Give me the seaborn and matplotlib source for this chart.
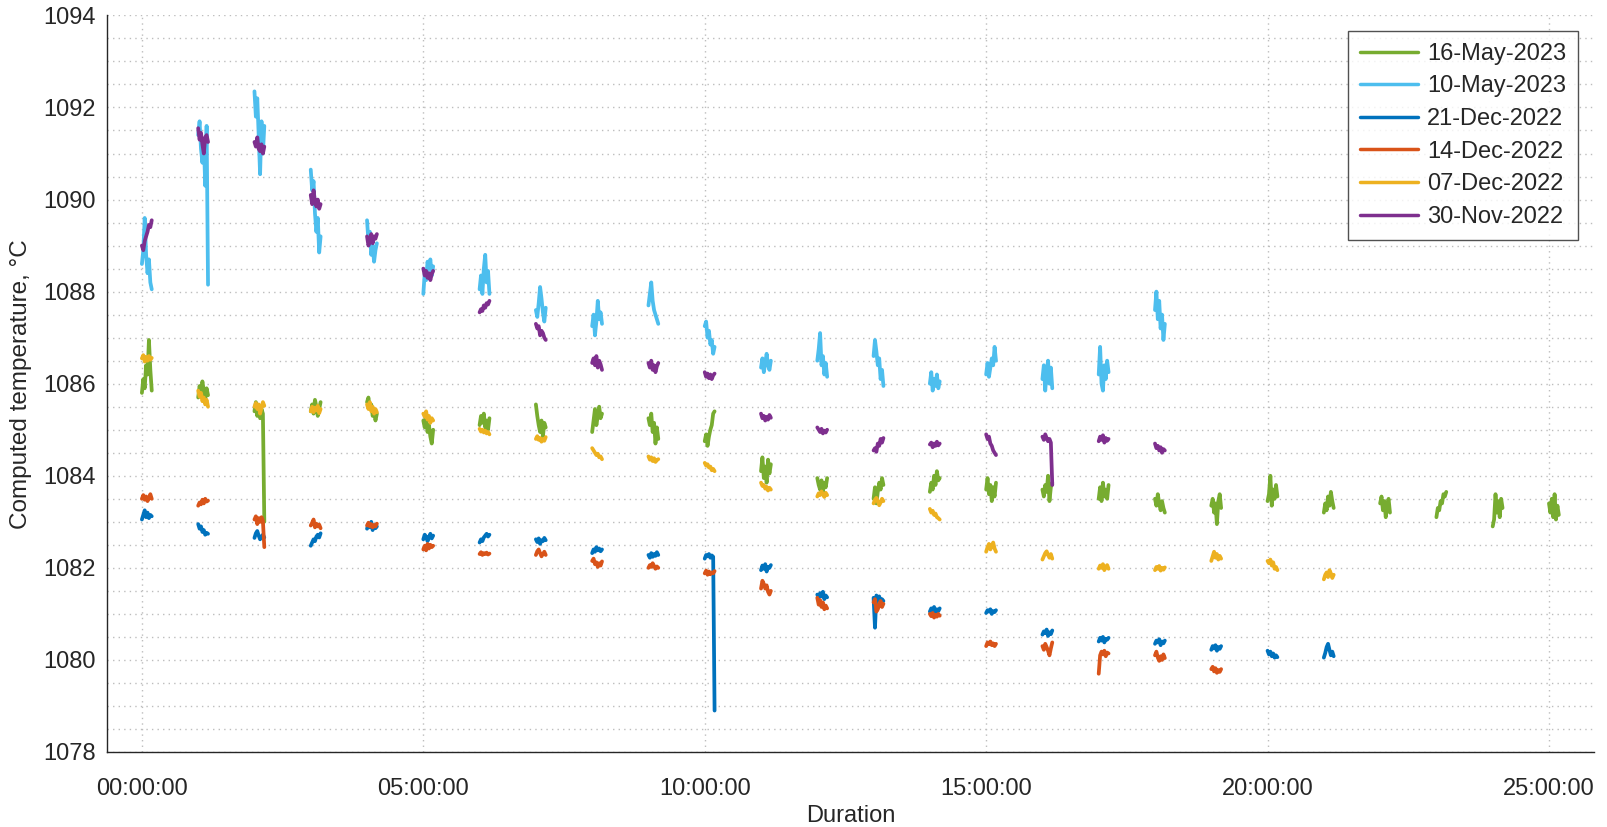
import numpy as np
import pandas as pd
import matplotlib
matplotlib.use("Agg")
import matplotlib.pyplot as plt
from matplotlib.ticker import MultipleLocator, FixedLocator
import seaborn as sns

# ---------------- data ----------------
series_labels = ["16-May-2023", "10-May-2023", "21-Dec-2022",
                 "14-Dec-2022", "07-Dec-2022", "30-Nov-2022"]
series_colors = ["#77AC30", "#4DBEEE", "#0072BD", "#D95319", "#EDB120", "#7E2F8E"]

# time offsets (hours) of the samples inside each hourly measurement burst
burst_offsets = [0.0, 0.025, 0.05, 0.075, 0.1, 0.125, 0.15, 0.175]

may16 = [
    [1085.80, 1086.10, 1085.90, 1086.40, 1086.20, 1086.95, 1086.30, 1085.85],
    [1085.70, 1085.95, 1085.80, 1086.05, 1085.85, 1085.65, 1085.90, 1085.75],
    [1085.40, 1085.60, 1085.30, 1085.50, 1085.25, 1085.45, 1085.35, 1083.00],
    [1085.40, 1085.55, 1085.35, 1085.65, 1085.50, 1085.30, 1085.45, 1085.60],
    [1085.60, 1085.70, 1085.45, 1085.55, 1085.30, 1085.40, 1085.20, 1085.35],
    [1085.20, 1085.05, 1085.25, 1084.95, 1085.10, 1084.85, 1084.70, 1085.00],
    [1085.10, 1085.30, 1085.15, 1085.35, 1085.05, 1085.20, 1085.00, 1085.25],
    [1085.55, 1085.30, 1085.10, 1084.95, 1085.20, 1084.85, 1085.15, 1085.05],
    [1084.95, 1085.20, 1085.45, 1085.10, 1085.30, 1085.50, 1085.25, 1085.35],
    [1085.25, 1085.10, 1085.35, 1084.95, 1085.15, 1084.70, 1085.05, 1084.80],
    [1084.75, 1084.90, 1084.65, 1084.85, 1085.00, 1085.10, 1085.35, 1085.40],
    [1084.10, 1084.40, 1083.95, 1084.20, 1083.85, 1084.35, 1084.05, 1084.25],
    [1083.95, 1083.80, 1083.70, 1083.90, 1083.65, 1083.85, 1083.75, 1083.95],
    [1083.50, 1083.75, 1083.40, 1083.65, 1083.85, 1083.70, 1083.95, 1083.80],
    [1083.65, 1083.85, 1083.70, 1084.00, 1083.80, 1084.10, 1083.90, 1083.95],
    [1083.70, 1083.95, 1083.60, 1083.80, 1083.45, 1083.75, 1083.55, 1083.85],
    [1083.70, 1083.55, 1083.80, 1083.65, 1084.00, 1083.45, 1083.75, 1083.85],
    [1083.50, 1083.75, 1083.45, 1083.85, 1083.55, 1083.70, 1083.50, 1083.80],
    [1083.50, 1083.35, 1083.60, 1083.40, 1083.25, 1083.45, 1083.30, 1083.20],
    [1083.35, 1083.50, 1083.20, 1083.40, 1082.95, 1083.45, 1083.60, 1083.30],
    [1083.45, 1083.60, 1084.00, 1083.35, 1083.70, 1083.50, 1083.80, 1083.55],
    [1083.20, 1083.40, 1083.25, 1083.55, 1083.35, 1083.65, 1083.45, 1083.30],
    [1083.40, 1083.55, 1083.25, 1083.45, 1083.10, 1083.35, 1083.50, 1083.20],
    [1083.10, 1083.30, 1083.25, 1083.45, 1083.40, 1083.60, 1083.55, 1083.65],
    [1082.90, 1083.05, 1083.60, 1083.20, 1083.45, 1083.10, 1083.50, 1083.30],
    [1083.40, 1083.20, 1083.50, 1083.10, 1083.60, 1083.05, 1083.35, 1083.15],
]

may10 = [
    [1088.60, 1088.90, 1089.60, 1088.80, 1088.40, 1088.70, 1088.20, 1088.05],
    [1091.40, 1091.70, 1091.10, 1090.80, 1091.30, 1090.30, 1091.60, 1088.15],
    [1092.35, 1091.80, 1092.20, 1091.40, 1090.55, 1091.70, 1091.00, 1091.60],
    [1090.65, 1090.20, 1090.40, 1089.70, 1089.30, 1089.60, 1088.85, 1089.20],
    [1089.55, 1089.10, 1089.30, 1088.80, 1089.00, 1088.65, 1088.90, 1089.05],
    [1087.95, 1088.40, 1088.25, 1088.65, 1088.50, 1088.70, 1088.35, 1088.55],
    [1088.05, 1088.35, 1087.95, 1088.50, 1088.80, 1088.20, 1088.45, 1087.95],
    [1087.60, 1087.45, 1087.75, 1088.10, 1087.85, 1087.55, 1087.35, 1087.65],
    [1087.25, 1087.50, 1087.05, 1087.35, 1087.80, 1087.40, 1087.55, 1087.30],
    [1087.70, 1087.95, 1088.20, 1087.80, 1087.60, 1087.50, 1087.40, 1087.30],
    [1087.25, 1087.35, 1087.00, 1087.15, 1086.85, 1086.95, 1086.65, 1086.80],
    [1086.35, 1086.55, 1086.25, 1086.45, 1086.65, 1086.40, 1086.30, 1086.50],
    [1086.50, 1086.75, 1087.10, 1086.40, 1086.60, 1086.20, 1086.45, 1086.15],
    [1086.60, 1086.95, 1086.70, 1086.40, 1086.55, 1086.10, 1086.30, 1085.95],
    [1086.00, 1086.25, 1085.85, 1086.10, 1085.95, 1086.20, 1085.90, 1086.05],
    [1086.20, 1086.45, 1086.15, 1086.35, 1086.55, 1086.40, 1086.80, 1086.50],
    [1086.10, 1086.40, 1085.85, 1086.25, 1086.50, 1086.00, 1086.35, 1085.90],
    [1086.20, 1086.80, 1086.00, 1085.85, 1086.40, 1086.10, 1086.50, 1086.25],
    [1087.60, 1088.00, 1087.40, 1087.80, 1087.20, 1087.50, 1086.95, 1087.30],
]

dec21 = [
    [1083.05, 1083.15, 1083.25, 1083.10, 1083.20, 1083.08, 1083.15, 1083.12],
    [1082.95, 1082.85, 1082.90, 1082.78, 1082.82, 1082.72, 1082.76, 1082.74],
    [1082.65, 1082.75, 1082.80, 1082.70, 1082.62, 1082.68, 1082.72, 1082.66],
    [1082.48, 1082.55, 1082.62, 1082.58, 1082.68, 1082.72, 1082.66, 1082.75],
    [1082.85, 1082.95, 1082.88, 1083.00, 1082.82, 1082.92, 1082.86, 1082.90],
    [1082.62, 1082.72, 1082.68, 1082.58, 1082.66, 1082.74, 1082.64, 1082.70],
    [1082.55, 1082.62, 1082.58, 1082.66, 1082.70, 1082.74, 1082.68, 1082.72],
    [1082.62, 1082.56, 1082.64, 1082.52, 1082.60, 1082.58, 1082.65, 1082.60],
    [1082.32, 1082.40, 1082.35, 1082.45, 1082.38, 1082.42, 1082.36, 1082.40],
    [1082.28, 1082.22, 1082.32, 1082.24, 1082.30, 1082.26, 1082.34, 1082.28],
    [1082.20, 1082.28, 1082.25, 1082.30, 1082.22, 1082.27, 1082.24, 1078.90],
    [1081.95, 1082.05, 1081.98, 1082.08, 1081.92, 1082.02, 1082.00, 1082.06],
    [1081.42, 1081.35, 1081.45, 1081.38, 1081.48, 1081.32, 1081.40, 1081.36],
    [1081.35, 1080.70, 1081.40, 1081.30, 1081.38, 1081.25, 1081.32, 1081.28],
    [1081.05, 1081.12, 1081.08, 1081.15, 1081.02, 1081.10, 1081.06, 1081.12],
    [1081.02, 1081.08, 1081.05, 1081.10, 1081.00, 1081.06, 1081.04, 1081.08],
    [1080.55, 1080.62, 1080.58, 1080.66, 1080.52, 1080.60, 1080.56, 1080.64],
    [1080.40, 1080.48, 1080.42, 1080.50, 1080.38, 1080.46, 1080.44, 1080.48],
    [1080.35, 1080.42, 1080.38, 1080.45, 1080.32, 1080.40, 1080.36, 1080.42],
    [1080.22, 1080.30, 1080.25, 1080.32, 1080.20, 1080.28, 1080.24, 1080.30],
    [1080.20, 1080.12, 1080.18, 1080.08, 1080.14, 1080.05, 1080.10, 1080.06],
    [1080.05, 1080.15, 1080.28, 1080.35, 1080.22, 1080.10, 1080.18, 1080.08],
]

dec14 = [
    [1083.50, 1083.58, 1083.48, 1083.55, 1083.45, 1083.52, 1083.60, 1083.50],
    [1083.35, 1083.42, 1083.38, 1083.48, 1083.40, 1083.50, 1083.44, 1083.46],
    [1083.05, 1083.12, 1082.95, 1083.08, 1083.00, 1083.10, 1083.02, 1082.45],
    [1082.92, 1082.98, 1083.05, 1082.88, 1082.96, 1082.90, 1082.94, 1082.86],
    [1082.92, 1082.98, 1082.90, 1082.95, 1082.88, 1082.93, 1082.90, 1082.96],
    [1082.40, 1082.48, 1082.38, 1082.52, 1082.42, 1082.50, 1082.45, 1082.48],
    [1082.30, 1082.34, 1082.28, 1082.32, 1082.30, 1082.33, 1082.29, 1082.31],
    [1082.28, 1082.36, 1082.40, 1082.32, 1082.25, 1082.30, 1082.35, 1082.28],
    [1082.15, 1082.20, 1082.08, 1082.12, 1082.02, 1082.10, 1082.05, 1082.14],
    [1082.00, 1082.06, 1082.02, 1082.10, 1082.04, 1081.98, 1082.03, 1082.00],
    [1081.88, 1081.94, 1081.85, 1081.92, 1081.86, 1081.90, 1081.88, 1081.93],
    [1081.55, 1081.72, 1081.65, 1081.55, 1081.62, 1081.48, 1081.42, 1081.50],
    [1081.35, 1081.20, 1081.30, 1081.15, 1081.25, 1081.10, 1081.18, 1081.12],
    [1081.25, 1081.32, 1081.05, 1081.10, 1081.20, 1081.28, 1081.15, 1081.22],
    [1081.00, 1080.95, 1081.02, 1080.92, 1080.98, 1080.94, 1081.00, 1080.96],
    [1080.30, 1080.38, 1080.34, 1080.40, 1080.32, 1080.36, 1080.30, 1080.35],
    [1080.30, 1080.22, 1080.35, 1080.28, 1080.20, 1080.10, 1080.25, 1080.38],
    [1079.70, 1080.10, 1080.18, 1080.12, 1080.20, 1080.08, 1080.16, 1080.14],
    [1080.10, 1080.18, 1080.05, 1079.98, 1080.08, 1080.00, 1080.12, 1080.04],
    [1079.80, 1079.85, 1079.75, 1079.82, 1079.72, 1079.78, 1079.74, 1079.80],
]

dec07 = [
    [1086.55, 1086.62, 1086.48, 1086.58, 1086.50, 1086.60, 1086.52, 1086.56],
    [1085.85, 1085.72, 1085.80, 1085.62, 1085.70, 1085.55, 1085.65, 1085.50],
    [1085.50, 1085.58, 1085.45, 1085.55, 1085.35, 1085.48, 1085.60, 1085.52],
    [1085.40, 1085.50, 1085.38, 1085.48, 1085.42, 1085.52, 1085.36, 1085.45],
    [1085.55, 1085.45, 1085.60, 1085.40, 1085.50, 1085.35, 1085.45, 1085.38],
    [1085.35, 1085.28, 1085.40, 1085.22, 1085.30, 1085.15, 1085.25, 1085.20],
    [1085.02, 1084.96, 1085.00, 1084.94, 1084.98, 1084.92, 1084.95, 1084.90],
    [1084.80, 1084.86, 1084.78, 1084.82, 1084.74, 1084.80, 1084.76, 1084.84],
    [1084.60, 1084.55, 1084.50, 1084.45, 1084.48, 1084.40, 1084.42, 1084.36],
    [1084.42, 1084.35, 1084.40, 1084.32, 1084.38, 1084.30, 1084.34, 1084.36],
    [1084.28, 1084.22, 1084.25, 1084.18, 1084.20, 1084.12, 1084.15, 1084.10],
    [1083.85, 1083.78, 1083.80, 1083.72, 1083.76, 1083.68, 1083.74, 1083.70],
    [1083.55, 1083.62, 1083.58, 1083.66, 1083.60, 1083.54, 1083.63, 1083.58],
    [1083.40, 1083.48, 1083.52, 1083.44, 1083.36, 1083.42, 1083.50, 1083.45],
    [1083.28, 1083.20, 1083.24, 1083.15, 1083.18, 1083.10, 1083.08, 1083.05],
    [1082.35, 1082.45, 1082.52, 1082.40, 1082.48, 1082.55, 1082.42, 1082.35],
    [1082.18, 1082.25, 1082.32, 1082.36, 1082.28, 1082.22, 1082.30, 1082.20],
    [1081.98, 1082.05, 1082.00, 1082.08, 1081.95, 1082.02, 1082.06, 1081.98],
    [1081.95, 1082.02, 1081.98, 1082.04, 1081.94, 1082.00, 1081.96, 1082.01],
    [1082.15, 1082.25, 1082.35, 1082.22, 1082.30, 1082.18, 1082.26, 1082.20],
    [1082.15, 1082.10, 1082.18, 1082.05, 1082.12, 1081.98, 1082.02, 1081.95],
    [1081.75, 1081.85, 1081.90, 1081.80, 1081.95, 1081.88, 1081.78, 1081.85],
]

nov30 = [
    [1089.00, 1088.90, 1089.10, 1089.20, 1089.30, 1089.45, 1089.40, 1089.55],
    [1091.55, 1091.30, 1091.45, 1091.20, 1091.00, 1091.35, 1091.40, 1091.25],
    [1091.25, 1091.15, 1091.35, 1091.10, 1091.05, 1091.20, 1091.00, 1091.15],
    [1090.10, 1089.90, 1090.20, 1089.95, 1089.85, 1090.00, 1089.80, 1089.90],
    [1089.20, 1089.00, 1089.10, 1089.25, 1089.05, 1089.20, 1089.15, 1089.25],
    [1088.50, 1088.35, 1088.45, 1088.30, 1088.40, 1088.25, 1088.38, 1088.45],
    [1087.55, 1087.62, 1087.58, 1087.70, 1087.65, 1087.75, 1087.72, 1087.80],
    [1087.30, 1087.20, 1087.25, 1087.05, 1087.15, 1087.10, 1087.00, 1086.95],
    [1086.45, 1086.55, 1086.40, 1086.60, 1086.35, 1086.50, 1086.42, 1086.30],
    [1086.45, 1086.35, 1086.50, 1086.30, 1086.40, 1086.25, 1086.38, 1086.45],
    [1086.25, 1086.15, 1086.22, 1086.12, 1086.20, 1086.10, 1086.18, 1086.22],
    [1085.35, 1085.25, 1085.30, 1085.20, 1085.28, 1085.22, 1085.32, 1085.26],
    [1085.05, 1085.00, 1084.95, 1085.02, 1084.92, 1084.98, 1084.94, 1085.00],
    [1084.55, 1084.60, 1084.52, 1084.70, 1084.65, 1084.80, 1084.72, 1084.82],
    [1084.68, 1084.72, 1084.62, 1084.70, 1084.65, 1084.74, 1084.66, 1084.70],
    [1084.90, 1084.80, 1084.85, 1084.70, 1084.65, 1084.55, 1084.50, 1084.45],
    [1084.85, 1084.78, 1084.90, 1084.82, 1084.75, 1084.80, 1084.72, 1083.80],
    [1084.75, 1084.85, 1084.78, 1084.88, 1084.72, 1084.82, 1084.76, 1084.80],
    [1084.70, 1084.60, 1084.65, 1084.55, 1084.62, 1084.50, 1084.58, 1084.55],
]

x_ticks = [0, 5, 10, 15, 20, 25]
x_tick_labels = ["00:00:00", "05:00:00", "10:00:00", "15:00:00", "20:00:00", "25:00:00"]
y_ticks = [1078, 1080, 1082, 1084, 1086, 1088, 1090, 1092, 1094]

# ---------------- build long-form table ----------------
all_series = [may16, may10, dec21, dec14, dec07, nov30]
rows = []
for label, bursts in zip(series_labels, all_series):
    for hour, vals in enumerate(bursts):
        for off, v in zip(burst_offsets, vals):
            rows.append((label, f"{label}-{hour}", hour + off, v))
df = pd.DataFrame(rows, columns=["series", "burst", "hours", "temp"])

# ---------------- plot ----------------
sns.set_theme(style="white")
plt.rcParams["font.family"] = ["Liberation Sans", "DejaVu Sans"]
plt.rcParams["font.size"] = 17

fig = plt.figure(figsize=(16.07, 8.27), dpi=100)
ax = fig.add_axes([107 / 1607, 75 / 827, (1594 - 107) / 1607, (752 - 15.4) / 827])

sns.lineplot(data=df, x="hours", y="temp", hue="series", units="burst",
             estimator=None, sort=False, hue_order=series_labels,
             palette=dict(zip(series_labels, series_colors)),
             linewidth=2.7, ax=ax, legend=True)

ax.set_xlim(-0.62, 25.8)
ax.set_ylim(1078, 1094)
ax.xaxis.set_major_locator(FixedLocator(x_ticks))
ax.set_xticklabels(x_tick_labels)
ax.yaxis.set_major_locator(FixedLocator(y_ticks))
ax.yaxis.set_minor_locator(MultipleLocator(0.5))

dark = "#262626"
ax.tick_params(axis="both", which="major", direction="in", length=11, width=1,
               color=dark, labelcolor=dark, labelsize=17)
ax.tick_params(axis="y", which="major", pad=8)
ax.tick_params(axis="x", which="major", pad=19)
ax.tick_params(axis="both", which="minor", length=0)
for side in ["top", "right"]:
    ax.spines[side].set_visible(False)
for side in ["left", "bottom"]:
    ax.spines[side].set_color(dark)
    ax.spines[side].set_linewidth(1.0)

ax.grid(which="major", axis="both", linestyle=(0, (1, 3)), color="#bdbdbd", linewidth=1.0)
ax.grid(which="minor", axis="y", linestyle=(0, (1, 3)), color="#bdbdbd", linewidth=1.0)
ax.set_axisbelow(True)

ax.set_xlabel("Duration", fontsize=17, color=dark, labelpad=3)
ax.set_ylabel("Computed temperature, °C", fontsize=17.5, color=dark, labelpad=8)

handles, labels = ax.get_legend_handles_labels()
leg = ax.legend(handles, labels, loc="upper right",
                bbox_to_anchor=(1578 / 1607, 1 - 31 / 827), bbox_transform=fig.transFigure,
                borderaxespad=0, fontsize=17, frameon=True, fancybox=False,
                handlelength=2.45, handletextpad=0.4, labelspacing=0.45,
                borderpad=0.5)
leg.get_frame().set_edgecolor(dark)
leg.get_frame().set_linewidth(1.0)
for line in leg.get_lines():
    line.set_linewidth(2.5)

fig.savefig("out.png", dpi=100)
